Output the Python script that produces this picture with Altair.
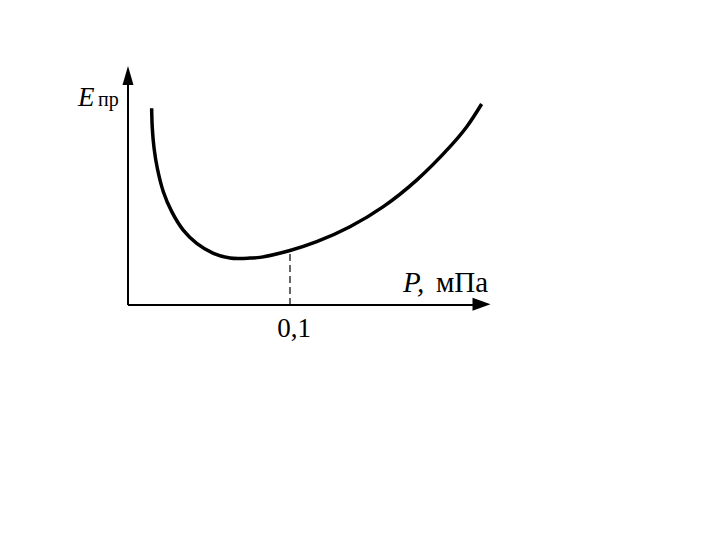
import altair as alt
import pandas as pd

# Curve (P in MPa, E in relative units)
p_vals = [0.0146, 0.0150, 0.0161, 0.0181, 0.0218, 0.0270, 0.0341, 0.0424,
          0.0527, 0.0630, 0.0691, 0.0753, 0.0815, 0.1000, 0.1165, 0.1370,
          0.1576, 0.1782, 0.1988, 0.2091, 0.2183]
e_vals = [0.830, 0.746, 0.661, 0.577, 0.478, 0.394, 0.316, 0.260,
          0.218, 0.198, 0.196, 0.198, 0.201, 0.230, 0.267, 0.330,
          0.415, 0.527, 0.668, 0.752, 0.848]

tick_p = 0.1
tick_label = "0,1"

# scale set-up: the plot area covers the whole page area
XPX, YPX = 1620.0, 237.0   # pixels per unit
X0, Y0 = 128 - 8, 305 - 8  # origin within plot area
W, H = 704, 524
xdom = [-X0 / XPX, (W - X0) / XPX]
ydom = [-(H - Y0) / YPX, Y0 / YPX]

xs = alt.Scale(domain=xdom, nice=False, zero=False)
ys = alt.Scale(domain=ydom, nice=False, zero=False)

def px(x):
    return (x - 128) / XPX

def py(y):
    return (305 - y) / YPX

curve_df = pd.DataFrame({"P": p_vals, "E": e_vals})
curve = alt.Chart(curve_df).mark_line(
    color="black", strokeWidth=3.5, interpolate="catmull-rom", clip=False
).encode(x=alt.X("P:Q", scale=xs, axis=None), y=alt.Y("E:Q", scale=ys, axis=None))

# axes lines
axes_df = pd.DataFrame({
    "x": [0, 0], "y": [0, 0],
    "x2": [px(482), 0], "y2": [0, py(80)],
})
axes = alt.Chart(axes_df).mark_rule(color="black", strokeWidth=2).encode(
    x=alt.X("x:Q", scale=xs, axis=None), x2="x2:Q",
    y=alt.Y("y:Q", scale=ys, axis=None), y2="y2:Q",
)

arrow_x = alt.Chart(pd.DataFrame({"x": [px(481.5)], "y": [py(304.3)]})).mark_point(
    shape="M-1,-0.72L1,0L-1,0.72Z", filled=True, color="black", opacity=1, size=324
).encode(x=alt.X("x:Q", scale=xs, axis=None), y=alt.Y("y:Q", scale=ys, axis=None))

arrow_y = alt.Chart(pd.DataFrame({"x": [0], "y": [py(75.5)]})).mark_point(
    shape="M-0.58,1L0,-1L0.58,1Z", filled=True, color="black", opacity=1, size=361
).encode(x=alt.X("x:Q", scale=xs, axis=None), y=alt.Y("y:Q", scale=ys, axis=None))

# dashed guide at P = 0.1
dash_df = pd.DataFrame({"x": [tick_p], "y": [0], "y2": [py(250)]})
dash = alt.Chart(dash_df).mark_rule(color="black", strokeWidth=1.2, strokeDash=[7, 4]).encode(
    x=alt.X("x:Q", scale=xs, axis=None),
    y=alt.Y("y:Q", scale=ys, axis=None), y2="y2:Q",
)

FONT = "Times New Roman, Liberation Serif, Times, serif"

def label(text, x, y, size, style="normal", align="left"):
    d = pd.DataFrame({"x": [x], "y": [y], "t": [text]})
    return alt.Chart(d).mark_text(
        font=FONT, fontSize=size, fontStyle=style, align=align,
        baseline="alphabetic", color="black"
    ).encode(x=alt.X("x:Q", scale=xs, axis=None), y=alt.Y("y:Q", scale=ys, axis=None), text="t:N")

texts = [
    label("E", px(78), py(105.5), 27, "italic"),
    label("пр", px(98), py(105.5), 20),
    label("P,", px(403), py(291.5), 29, "italic"),
    label("мПа", px(436), py(291.5), 29),
    label(tick_label, tick_p + px(294) - px(290), py(337), 27, align="center"),
]

chart = alt.layer(axes, dash, curve, arrow_x, arrow_y, *texts).properties(
    width=W, height=H, padding=0, autosize=alt.AutoSizeParams(type="none"),
    background="white",
).configure_view(stroke=None)

chart.save("out.html", embed_options={"renderer": "svg", "actions": False})
